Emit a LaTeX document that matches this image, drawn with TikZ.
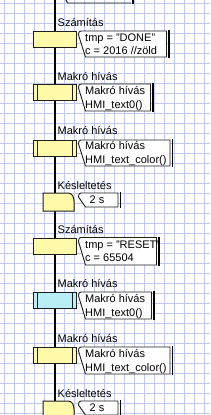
\documentclass[tikz,border=0pt]{standalone}
\usepackage{fontspec}
\setmainfont{Liberation Sans}
\definecolor{gridc}{RGB}{190,200,240}
\definecolor{boxy}{RGB}{255,249,170}
\definecolor{boxc}{RGB}{184,238,246}
\definecolor{edgec}{RGB}{30,30,30}
\tikzset{
  gridline/.style={draw=gridc, line width=0.8pt},
  flowline/.style={draw=black, line width=1.2pt},
  stepbox/.style={draw=edgec, line width=1pt, fill=boxy, minimum width=43pt, minimum height=16pt, inner sep=0pt, anchor=north west},
  callshape/.style={draw=edgec, line width=0.9pt, fill=white},
  callbar/.style={draw=black, line width=1.6pt},
  lbl/.style={anchor=base west, inner sep=0pt, font=\fontsize{11}{13}\selectfont},
  ctext/.style={anchor=base west, inner sep=0pt, font=\fontsize{11}{13}\selectfont},
}
% callout: #1 top, #2 bottom, #3 right
\newcommand\mycallout[3]{%
  \draw[callshape] (81,#1) .. controls (79,#1+0.5) .. (78.5,#1+4) -- (85.5,#2) -- (#3-2.5,#2) -- (#3-2.5,#1) -- cycle;
  \draw[callbar] (#3,#1-1) -- (#3,#2+1);
}
\newcommand\subrlines[1]{%
  \draw[draw=edgec, line width=0.9pt] ([xshift=4.5pt]#1.north west) -- ([xshift=4.5pt]#1.south west);
  \draw[draw=edgec, line width=0.9pt] ([xshift=-4.5pt]#1.north east) -- ([xshift=-4.5pt]#1.south east);
}
\newcommand\delayshape[2]{% #1 top, #2 bottom
  \draw[draw=edgec, line width=1pt, fill=boxy] (43,#1) -- (68,#1) .. controls (72,#1) and (74,#1+4) .. (74,#1+8) -- (74,#2) -- (43,#2) -- cycle;
}
\begin{document}
\begin{tikzpicture}[x=1pt,y=-1pt]
\useasboundingbox (0,0) rectangle (210,415);
\fill[white] (0,0) rectangle (210,415);
\foreach \gx in {4.5,14.5,...,204.5} \draw[gridline] (\gx,0) -- (\gx,415);
\foreach \gy in {3,13,...,413} \draw[gridline] (0,\gy) -- (210,\gy);
% main flow line
\coordinate (ftop) at (55,0);
\coordinate (fbot) at (55,415);
\draw[flowline] (ftop) -- (fbot);
% partial callout at top
\draw[draw=edgec, line width=0.9pt] (65,-2) -- (67.5,3) -- (131,3);
\draw[callbar] (133,-2) -- (133,4);
% 1 Számítás
\node[lbl] (l1) at (57.5,27) {Számítás};
\node[stepbox] (b1) at (33,31) {};
\mycallout{31}{57}{169}
\node[ctext] (t1a) at (85,41) {tmp = "DONE"};
\node[ctext] (t1b) at (85,54) {c = 2016 //zöld};
% 2 Makró hívás
\node[lbl] (l2) at (57.5,80) {Makró hívás};
\node[stepbox] (b2) at (33,84) {};
\subrlines{b2}
\mycallout{84}{111}{153}
\node[ctext] (t2a) at (85,94.5) {Makró hívás};
\node[ctext] (t2b) at (85,108) {HMI\_text0()};
% 3 Makró hívás
\node[lbl] (l3) at (57.5,134.5) {Makró hívás};
\node[stepbox] (b3) at (33,140) {};
\subrlines{b3}
\mycallout{140}{166}{172.5}
\node[ctext] (t3a) at (85,149.5) {Makró hívás};
\node[ctext] (t3b) at (85,163) {HMI\_text\_color()};
% 4 Késleltetés
\node[lbl] (l4) at (57.5,189) {Késleltetés};
\delayshape{193}{211}
\mycallout{193}{207}{120.5}
\node[ctext] (t4) at (89.5,203.5) {2 s};
% 5 Számítás
\node[lbl] (l5) at (57.5,233) {Számítás};
\node[stepbox] (b5) at (33,237.5) {};
\mycallout{237.5}{265}{159}
\node[ctext] (t5a) at (85,248) {tmp = "RESET"};
\node[ctext] (t5b) at (85,261) {c = 65504};
% 6 Makró hívás (cyan)
\node[lbl] (l6) at (57.5,287.5) {Makró hívás};
\node[stepbox, fill=boxc] (b6) at (33,292) {};
\subrlines{b6}
\mycallout{292}{319}{154}
\node[ctext] (t6a) at (85,302) {Makró hívás};
\node[ctext] (t6b) at (85,316) {HMI\_text0()};
% 7 Makró hívás
\node[lbl] (l7) at (57.5,342.5) {Makró hívás};
\node[stepbox] (b7) at (33,347) {};
\subrlines{b7}
\mycallout{347}{374}{172.5}
\node[ctext] (t7a) at (85,357) {Makró hívás};
\node[ctext] (t7b) at (85,371) {HMI\_text\_color()};
% 8 Késleltetés
\node[lbl] (l8) at (57.5,397) {Késleltetés};
\delayshape{401}{425}
\mycallout{401}{415}{120.5}
\node[ctext] (t8) at (89.5,411.5) {2 s};
\end{tikzpicture}
\end{document}
